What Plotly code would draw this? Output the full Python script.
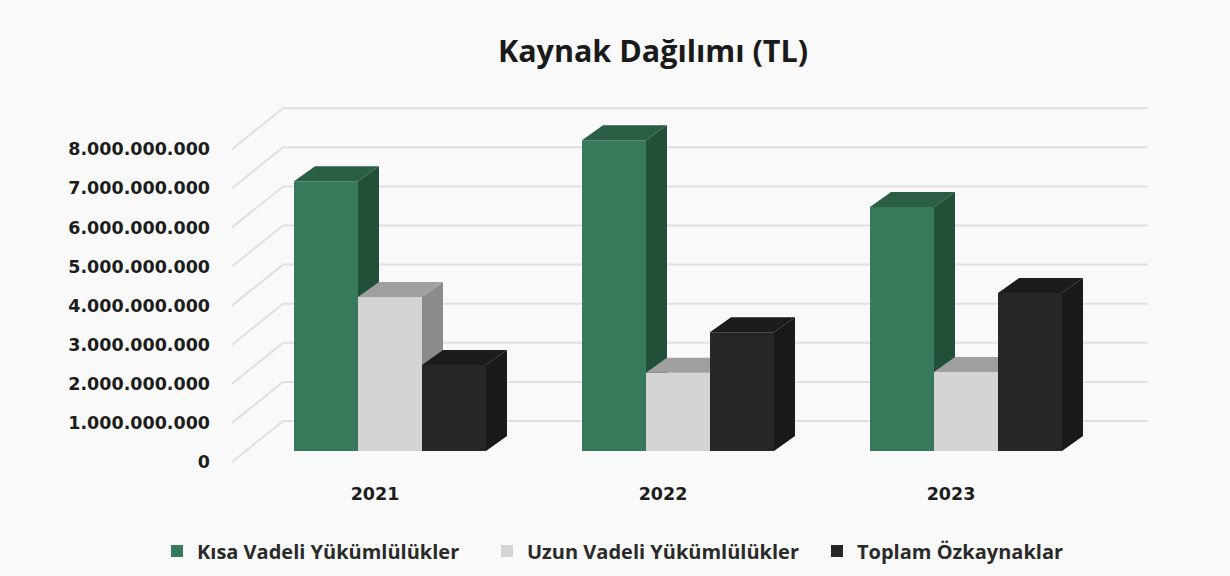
import plotly.graph_objects as go

years = ["2021", "2022", "2023"]
kisa_vadeli = [6900000000, 7950000000, 6240000000]
uzun_vadeli = [3940000000, 2000000000, 2020000000]
ozkaynaklar = [2200000000, 3040000000, 4040000000]
series_names = ["Kısa Vadeli Yükümlülükler", "Uzun Vadeli Yükümlülükler", "Toplam Özkaynaklar"]
tick_values = [0, 1000000000, 2000000000, 3000000000, 4000000000, 5000000000, 6000000000, 7000000000, 8000000000]
tick_labels = ["0", "1.000.000.000", "2.000.000.000", "3.000.000.000", "4.000.000.000",
               "5.000.000.000", "6.000.000.000", "7.000.000.000", "8.000.000.000"]

FONT = "Open Sans"
AXIS_FONT = "DejaVu Sans"
BG = "#f9f9f9"
# front, top, side colour of each series
COLORS = [("#37795b", "#2a5f46", "#215039"),
          ("#d4d4d4", "#a0a0a0", "#8b8b8b"),
          ("#262626", "#1c1c1c", "#191919")]

# page pixels <-> axis units
PX_X = 288.0       # pixels between two years
PX_Y = 39.1 / 1e9  # pixels per TL
PLOT_L, PLOT_R, PLOT_T, PLOT_B = 232, 1148, 100, 470
X0 = 375           # pixel of the 2021 label
Y0 = 462           # pixel of the 0 label
BASE = 11 / PX_Y   # bars stand a bit behind the front edge of the floor

BAR_W = 64 / PX_X
OFFSETS = [-49 / PX_X, 15 / PX_X, 79 / PX_X]
DEPTH_X, DEPTH_Y = 21 / PX_X, 15 / PX_Y
WALL_X, WALL_Y = 51 / PX_X, 41 / PX_Y

x_range = [(PLOT_L - X0) / PX_X, (PLOT_R - X0) / PX_X]
y_range = [(Y0 - PLOT_B) / PX_Y, (Y0 - PLOT_T) / PX_Y]
bar_range = [y_range[0] - BASE, y_range[1] - BASE]
positions = list(range(len(years)))
# no side margins: the legend sits outside the axis domains but inside the plot area, so it pushes nothing
area_w = 1230
area_h = 576 - PLOT_T
x_domain = [PLOT_L / area_w, PLOT_R / area_w]
y_domain = [(576 - PLOT_B) / area_h, 1]

fig = go.Figure()

# walls: slanted piece from the axis and then the back line
grid_x, grid_y = [], []
for t in tick_values:
    grid_x += [x_range[0], x_range[0] + WALL_X, x_range[1], None]
    grid_y += [t, t + WALL_Y, t + WALL_Y, None]
fig.add_trace(go.Scatter(x=grid_x, y=grid_y, mode="lines", line=dict(color="#e0e0e0", width=2),
                         showlegend=False, hoverinfo="skip"))

# every series on its own overlaid axis so it is painted over the one on its left
all_values = [kisa_vadeli, uzun_vadeli, ozkaynaklar]
for i, values in enumerate(all_values):
    yax = "y" + str(i + 2)
    front, top, side = COLORS[i]
    xs = [p + OFFSETS[i] for p in positions]
    fig.add_trace(go.Bar(x=xs, y=values, width=BAR_W, name=series_names[i], yaxis=yax,
                         marker=dict(color=front, line=dict(width=0))))
    top_x, top_y, side_x, side_y = [], [], [], []
    for x, v in zip(xs, values):
        left, right = x - BAR_W / 2, x + BAR_W / 2
        top_x += [left, right, right + DEPTH_X, left + DEPTH_X, left, None]
        top_y += [v, v, v + DEPTH_Y, v + DEPTH_Y, v, None]
        side_x += [right, right + DEPTH_X, right + DEPTH_X, right, right, None]
        side_y += [0, DEPTH_Y, v + DEPTH_Y, v, 0, None]
    for fx, fy, col in [(top_x, top_y, top), (side_x, side_y, side)]:
        fig.add_trace(go.Scatter(x=fx, y=fy, yaxis=yax, mode="none", fill="toself", fillcolor=col,
                                 showlegend=False, hoverinfo="skip"))

axis_font = dict(size=17.5, family=AXIS_FONT, weight=700, color="#1c1c1c")
fig.update_layout(
    width=1230,
    height=576,
    paper_bgcolor=BG,
    plot_bgcolor=BG,
    margin=dict(l=0, r=0, t=PLOT_T, b=0, pad=0),
    font=dict(family=FONT, color="#1c1c1c"),
    title=dict(text="<b>Kaynak Dağılımı (TL)</b>", x=653 / 1230, xanchor="center", y=1 - 51 / 576, yanchor="middle",
               font=dict(size=30.5, family=FONT, color="#1a1a1a")),
    barmode="overlay",
    showlegend=True,
    legend=dict(orientation="h", x=157 / area_w, xanchor="left", y=(576 - 551) / area_h,
                yanchor="middle", traceorder="normal", entrywidthmode="pixels", entrywidth=285,
                font=dict(size=20, family=FONT, weight=700, color="#2a2a2a"), bgcolor="rgba(0,0,0,0)"),
    xaxis=dict(range=x_range, domain=x_domain, tickvals=positions, ticktext=years, showgrid=False,
               ticklabelstandoff=11, automargin=False, zeroline=False, showline=False, ticks="", tickfont=axis_font),
    yaxis=dict(range=y_range, domain=y_domain, tickvals=tick_values, ticktext=tick_labels, showgrid=False,
               ticklabelstandoff=21, automargin=False, zeroline=False, showline=False, ticks="", tickfont=axis_font),
)
for i in range(2, 5):
    fig.update_layout({"yaxis" + str(i): dict(range=bar_range, overlaying="y", visible=False)})

# page margin off so the figure fills the window
fig.write_html("out.html", config={"displayModeBar": False},
               post_script="document.body.style.margin='0';document.body.style.background='#f9f9f9';")
